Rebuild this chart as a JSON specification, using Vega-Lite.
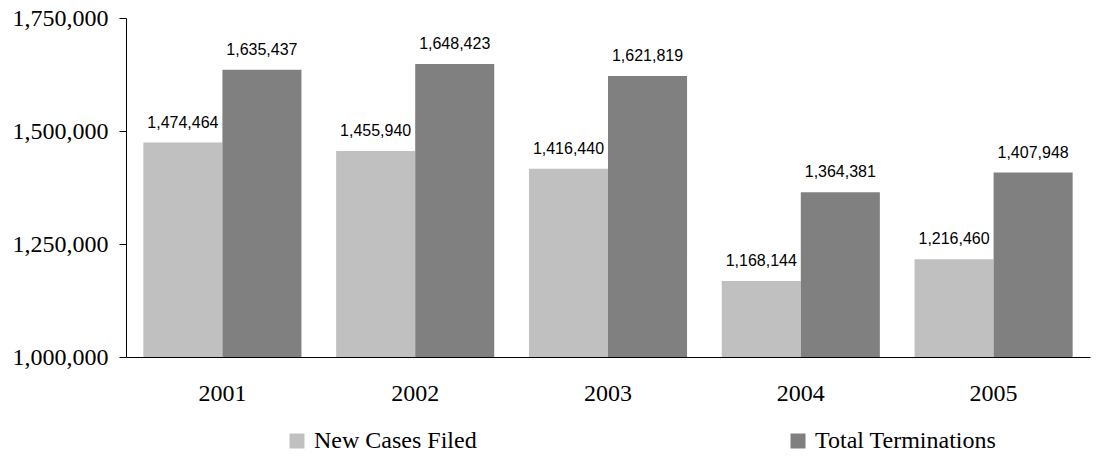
{
  "$schema": "https://vega.github.io/schema/vega-lite/v6.json",
  "width": 964,
  "height": 339,
  "autosize": "none",
  "padding": {"left": 126, "top": 18, "right": 12, "bottom": 100},
  "background": "white",
  "data": {
    "values": [
      {"year": "2001", "series": "New Cases Filed", "value": 1474464},
      {"year": "2001", "series": "Total Terminations", "value": 1635437},
      {"year": "2002", "series": "New Cases Filed", "value": 1455940},
      {"year": "2002", "series": "Total Terminations", "value": 1648423},
      {"year": "2003", "series": "New Cases Filed", "value": 1416440},
      {"year": "2003", "series": "Total Terminations", "value": 1621819},
      {"year": "2004", "series": "New Cases Filed", "value": 1168144},
      {"year": "2004", "series": "Total Terminations", "value": 1364381},
      {"year": "2005", "series": "New Cases Filed", "value": 1216460},
      {"year": "2005", "series": "Total Terminations", "value": 1407948}
    ]
  },
  "encoding": {
    "x": {
      "field": "year",
      "type": "nominal",
      "scale": {"paddingInner": 0.18, "paddingOuter": 0.09},
      "axis": {
        "title": null,
        "labelAngle": 0,
        "ticks": false,
        "tickSize": 0,
        "labelPadding": 24,
        "domainColor": "#000000",
        "labelFont": "Liberation Serif",
        "labelFontSize": 24,
        "labelColor": "#000000"
      }
    },
    "xOffset": {
      "field": "series",
      "type": "nominal",
      "sort": ["New Cases Filed", "Total Terminations"],
      "scale": {"paddingInner": 0, "paddingOuter": 0}
    },
    "y": {
      "field": "value",
      "type": "quantitative",
      "scale": {"domain": [1000000, 1750000], "zero": false, "nice": false},
      "axis": {
        "title": null,
        "values": [1000000, 1250000, 1500000, 1750000],
        "labelExpr": "format(datum.value, ',')",
        "grid": false,
        "tickSize": 7,
        "tickColor": "#000000",
        "domainColor": "#000000",
        "labelPadding": 11,
        "labelFont": "Liberation Serif",
        "labelFontSize": 24,
        "labelColor": "#000000"
      }
    }
  },
  "layer": [
    {
      "mark": {"type": "bar"},
      "encoding": {
        "y2": {"datum": 1000000},
        "color": {
          "field": "series",
          "type": "nominal",
          "scale": {"domain": ["New Cases Filed", "Total Terminations"], "range": ["#c0c0c0", "#808080"]},
          "legend": {
            "title": null,
            "orient": "none",
            "legendX": 159,
            "legendY": 411,
            "direction": "horizontal",
            "symbolType": "square",
            "symbolSize": 225,
            "symbolStrokeWidth": 0,
            "labelFont": "Liberation Serif",
            "labelFontSize": 24,
            "labelColor": "#000000",
            "labelOffset": 5,
            "columnPadding": 309,
            "labelLimit": 400
          }
        }
      }
    },
    {
      "mark": {
        "type": "text",
        "baseline": "alphabetic",
        "align": "center",
        "dy": -15,
        "font": "Liberation Sans",
        "fontSize": 16,
        "color": "#000000"
      },
      "encoding": {
        "text": {"field": "value", "type": "quantitative", "format": ","}
      }
    }
  ],
  "config": {
    "view": {"stroke": null}
  }
}
